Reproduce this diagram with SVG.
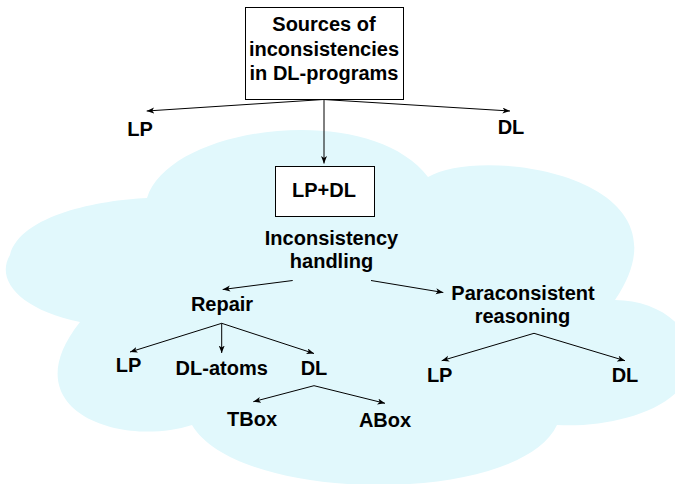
<svg xmlns="http://www.w3.org/2000/svg" width="675" height="484" viewBox="0 0 675 484">
<style>
text{font-family:"Liberation Sans",Arial,sans-serif;font-weight:bold;font-size:20px;fill:#000;text-anchor:middle}
.box{fill:#fff;stroke:#000;stroke-width:1}
.c line{stroke:#000;stroke-width:1;marker-end:url(#ah)}
</style>
<defs>
<marker id="ah" markerUnits="userSpaceOnUse" markerWidth="9" markerHeight="7" refX="7.5" refY="3" orient="auto">
<path d="M0,0 L7.5,3 L0,6 L2,3 z" fill="#000"/>
</marker>
</defs>
<rect width="675" height="484" fill="#fff"/>
<path id="cloud" fill="#e1f8fc" d="M147,198 C170,125 370,100 428,177 C480,145 700,175 615,300 C660,300 700,330 690,370 C680,410 610,428 557,425 C520,505 240,505 192,425 C120,448 10,410 80,322 C20,310 -5,280 10,255 C20,215 100,200 147,198 Z"/>
<g id="sources" class="node">
<rect class="box" x="245.5" y="7.5" width="158" height="92"/>
<text x="324" y="31">Sources of</text>
<text x="324" y="56">inconsistencies</text>
<text x="324" y="80">in DL-programs</text>
</g>
<g id="lp1" class="node"><text x="140" y="136">LP</text></g>
<g id="dl1" class="node"><text x="511" y="134">DL</text></g>
<g id="lpdl" class="node">
<rect class="box" x="275.5" y="166.5" width="99" height="50"/>
<text x="324" y="197">LP+DL</text>
</g>
<g id="handling" class="node">
<text x="331.5" y="245">Inconsistency</text>
<text x="331.5" y="268">handling</text>
</g>
<g id="repair" class="node"><text x="222" y="311">Repair</text></g>
<g id="para" class="node">
<text x="523" y="300">Paraconsistent</text>
<text x="522.5" y="323">reasoning</text>
</g>
<g id="lp2" class="node"><text x="128.5" y="372">LP</text></g>
<g id="dlatoms" class="node"><text x="221.7" y="375">DL-atoms</text></g>
<g id="dl2" class="node"><text x="314" y="375">DL</text></g>
<g id="tbox" class="node"><text x="252" y="426">TBox</text></g>
<g id="abox" class="node"><text x="385" y="427">ABox</text></g>
<g id="lp3" class="node"><text x="439.7" y="382">LP</text></g>
<g id="dl3" class="node"><text x="625" y="382">DL</text></g>
<g id="connectors" class="c">
<line x1="323.5" y1="99.5" x2="146.7" y2="111"/>
<line x1="323.5" y1="99.5" x2="510" y2="111"/>
<line x1="324" y1="99.5" x2="324" y2="163.5"/>
<line x1="292.7" y1="280.5" x2="222.7" y2="289.5"/>
<line x1="371" y1="280.5" x2="443.3" y2="292.5"/>
<line x1="221.7" y1="323.3" x2="130" y2="352"/>
<line x1="221.7" y1="323.3" x2="221.7" y2="353"/>
<line x1="221.7" y1="323.3" x2="314" y2="353.5"/>
<line x1="314" y1="385.7" x2="253.3" y2="401.7"/>
<line x1="314" y1="385.7" x2="385" y2="403.3"/>
<line x1="534" y1="333.3" x2="441.7" y2="360.7"/>
<line x1="534" y1="333.3" x2="625" y2="360.7"/>
</g>
</svg>
